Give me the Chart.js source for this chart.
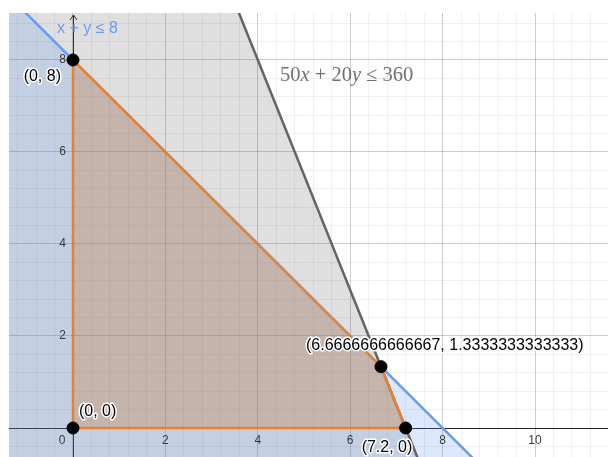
<!DOCTYPE html>
<html>
<head>
<meta charset="utf-8">
<script src="https://cdn.jsdelivr.net/npm/chart.js@4.4.1/dist/chart.umd.min.js"></script>
<style>
  html, body { margin: 0; padding: 0; background: #fff; }
  canvas { display: block; }
</style>
</head>
<body>
<canvas id="lpChart" width="608" height="457"></canvas>
<script>
// visible window of the graph (graph units)
const xRange = [-1.385, 11.58];
const yRange = [-0.63, 9.02];
const xTickLabels = [0, 2, 4, 6, 8, 10];
const yTickLabels = [2, 4, 6, 8];

// constraints: a*x + b*y <= c
const constraintBlue = [1, 1, 8];
const constraintGray = [50, 20, 360];

// corner points of the feasible region (in drawing order)
const vertexX = [0, 0, 6.6666666666667, 7.2];
const vertexY = [0, 8, 1.3333333333333, 0];
const vertexLabels = ['(0, 0)', '(0, 8)', '(6.6666666666667, 1.3333333333333)', '(7.2, 0)'];

// big box, cut down to a half plane
function halfPlane(con) {
    const box = [[-20, -20], [30, -20], [30, 30], [-20, 30]];
    const [a, b, c] = con;
    const inside = p => a * p[0] + b * p[1] <= c + 1e-9;
    const out = [];
    for (let i = 0; i < box.length; i++) {
        const p = box[i], q = box[(i + 1) % box.length];
        const pin = inside(p), qin = inside(q);
        if (pin) out.push(p);
        if (pin !== qin) {
            const t = (c - a * p[0] - b * p[1]) / (a * (q[0] - p[0]) + b * (q[1] - p[1]));
            out.push([p[0] + t * (q[0] - p[0]), p[1] + t * (q[1] - p[1])]);
        }
    }
    return out.map(([x, y]) => ({ x, y }));
}

// two far points of the boundary line a*x + b*y = c
function boundary(con) {
    const [a, b, c] = con;
    return [30, -20].map(y => ({ x: (c - b * y) / a, y }));
}

const vertices = vertexX.map((x, i) => ({ x, y: vertexY[i] }));
const polygon = vertices.concat([vertices[0]]);

const blueCol = '#6a9cee';
const grayCol = '#646464';
const orangeCol = '#e6822e';

// labels, axes and text drawn on top of the library's scales
const graphDecor = {
    id: 'graphDecor',
    beforeDatasetsDraw(chart) {
        const { ctx, chartArea: a, scales: { x, y } } = chart;
        const x0 = Math.round(x.getPixelForValue(0)) + 0.5;
        const y0 = Math.round(y.getPixelForValue(0)) + 0.5;
        ctx.save();
        ctx.strokeStyle = '#252525';
        ctx.lineWidth = 1;
        ctx.beginPath();
        ctx.moveTo(a.left, y0);
        ctx.lineTo(a.right, y0);
        ctx.moveTo(x0, a.bottom);
        ctx.lineTo(x0, a.top + 2);
        ctx.moveTo(x0 - 3.5, a.top + 7);
        ctx.lineTo(x0, a.top + 2);
        ctx.lineTo(x0 + 3.5, a.top + 7);
        ctx.stroke();
        ctx.restore();
    },
    afterDatasetsDraw(chart) {
        const { ctx, scales: { x, y } } = chart;
        const x0 = x.getPixelForValue(0);
        const y0 = y.getPixelForValue(0);
        ctx.save();

        // tick numbers
        ctx.font = '12px "Liberation Sans", Arial, sans-serif';
        ctx.fillStyle = '#3a3a3a';
        ctx.textBaseline = 'middle';
        ctx.textAlign = 'center';
        xTickLabels.forEach(v => {
            const px = v === 0 ? x0 - 11 : x.getPixelForValue(v);
            ctx.fillText(String(v), px, y0 + 13);
        });
        ctx.textAlign = 'right';
        yTickLabels.forEach(v => {
            ctx.fillText(String(v), x0 - 7, y.getPixelForValue(v));
        });

        // x + y <= 8 caption
        ctx.font = '16px "Liberation Sans", Arial, sans-serif';
        ctx.fillStyle = blueCol;
        ctx.textAlign = 'left';
        ctx.fillText('x + y ≤ 8', x0 - 16, 29);

        // 50x + 20y <= 360 caption, latex-ish
        const parts = [['50', ''], ['x', 'italic '], [' + ', ''], ['20', ''], ['y', 'italic '], [' ≤ ', ''], ['360', '']];
        let cx = x.getPixelForValue(4.48);
        const cy = y.getPixelForValue(7.67);
        ctx.fillStyle = '#707070';
        parts.forEach(([txt, style]) => {
            ctx.font = style + '20.5px "Liberation Serif", "Times New Roman", serif';
            ctx.fillText(txt, cx, cy);
            cx += ctx.measureText(txt).width;
        });

        // vertex labels with white halo
        const offsets = [[6, -16, 'left'], [-12, 17, 'right'], [-75, -21, 'left'], [-44, 20, 'left']];
        ctx.font = '16px "Liberation Sans", Arial, sans-serif';
        ctx.lineJoin = 'round';
        vertices.forEach((p, i) => {
            const [dx, dy, align] = offsets[i];
            const px = x.getPixelForValue(p.x) + dx;
            const py = y.getPixelForValue(p.y) + dy;
            ctx.textAlign = align;
            ctx.strokeStyle = '#fff';
            ctx.lineWidth = 3;
            ctx.strokeText(vertexLabels[i], px, py);
            ctx.fillStyle = '#000';
            ctx.fillText(vertexLabels[i], px, py);
        });
        ctx.restore();
    }
};

const isMajor = v => Math.abs(v / 2 - Math.round(v / 2)) < 1e-6;
const gridColor = c => isMajor(c.tick.value) ? 'rgba(0,0,0,0.2)' : 'rgba(0,0,0,0.06)';

new Chart(document.getElementById('lpChart'), {
    type: 'line',
    data: {
        datasets: [
            {
                label: 'vertices',
                data: vertices,
                showLine: false,
                pointRadius: 6,
                pointBackgroundColor: '#000',
                pointBorderColor: '#000',
                pointBorderWidth: 1
            },
            {
                label: 'feasible',
                data: polygon,
                borderColor: orangeCol,
                borderWidth: 2.5,
                backgroundColor: 'rgba(201,116,42,0.3)',
                fill: 'shape',
                pointRadius: 0
            },
            {
                label: '50x + 20y = 360',
                data: boundary(constraintGray),
                borderColor: grayCol,
                borderWidth: 2.5,
                pointRadius: 0,
                fill: false
            },
            {
                label: 'x + y = 8',
                data: boundary(constraintBlue),
                borderColor: blueCol,
                borderWidth: 2.5,
                pointRadius: 0,
                fill: false
            },
            {
                label: 'x + y ≤ 8',
                data: halfPlane(constraintBlue),
                borderWidth: 0,
                backgroundColor: 'rgba(80,140,235,0.2)',
                fill: 'shape',
                pointRadius: 0
            },
            {
                label: '50x + 20y ≤ 360',
                data: halfPlane(constraintGray),
                borderWidth: 0,
                backgroundColor: 'rgba(95,95,95,0.2)',
                fill: 'shape',
                pointRadius: 0
            }
        ]
    },
    options: {
        responsive: false,
        animation: false,
        events: [],
        layout: { autoPadding: false, padding: { left: 9, top: 13, right: 0, bottom: 0 } },
        plugins: {
            legend: { display: false },
            tooltip: { enabled: false }
        },
        scales: {
            x: {
                type: 'linear',
                min: xRange[0],
                max: xRange[1],
                border: { display: false },
                grid: { color: gridColor, drawTicks: false, lineWidth: 1 },
                ticks: { display: false, stepSize: 0.4, includeBounds: false }
            },
            y: {
                type: 'linear',
                min: yRange[0],
                max: yRange[1],
                border: { display: false },
                grid: { color: gridColor, drawTicks: false, lineWidth: 1 },
                ticks: { display: false, stepSize: 0.4, includeBounds: false }
            }
        }
    },
    plugins: [graphDecor]
});
</script>
</body>
</html>
